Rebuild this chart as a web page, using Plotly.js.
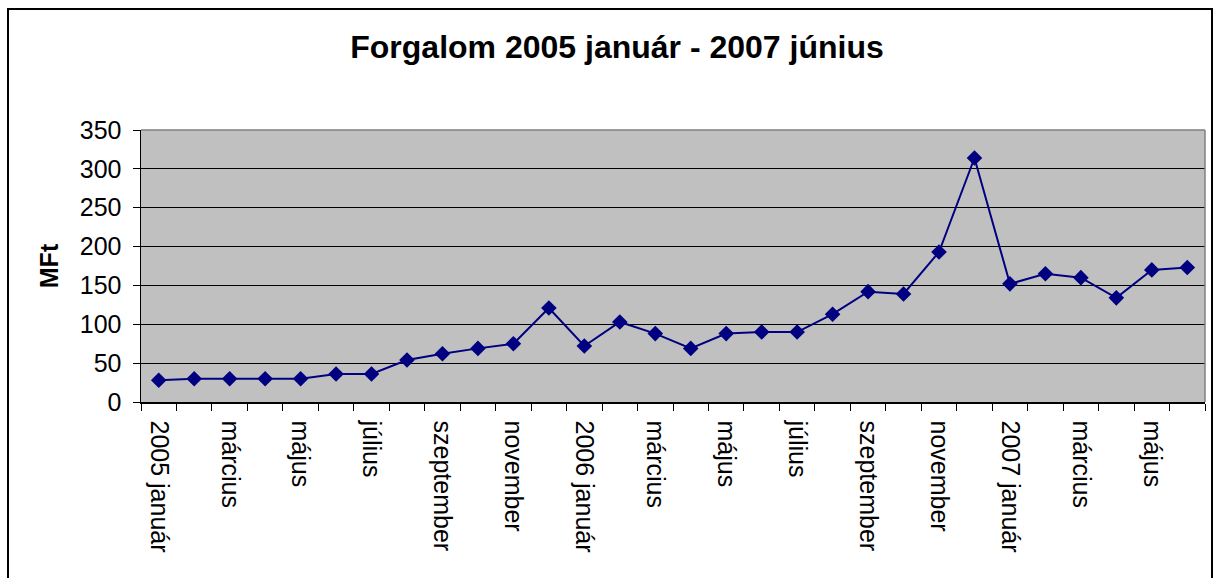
<!DOCTYPE html>
<html>
<head>
<meta charset="utf-8">
<script src="https://cdn.plot.ly/plotly-3.0.1.min.js"></script>
<style>
  html, body { margin: 0; padding: 0; background: #fff; }
  #chart { width: 1215px; height: 578px; }
</style>
</head>
<body>
<div id="chart"></div>
<script>
// Data
const months = [
  "2005 január", "február", "március", "április", "május", "június",
  "július", "augusztus", "szeptember", "október", "november", "december",
  "2006 január", "február", "március", "április", "május", "június",
  "július", "augusztus", "szeptember", "október", "november", "december",
  "2007 január", "február", "március", "április", "május", "június"
];
const forgalom = [
  28, 30, 30, 30, 30, 36, 36, 54, 62, 69, 75, 121,
  72, 103, 88, 69, 88, 90, 90, 113, 142, 139, 193, 314,
  152, 165, 160, 134, 170, 173
];
const yTicks = [0, 50, 100, 150, 200, 250, 300, 350];

const W = 1215, H = 578;
const margin = { l: 141, r: 10, t: 130, b: 176 };
const pw = W - margin.l - margin.r, ph = H - margin.t - margin.b;
const px = v => (v - margin.l) / pw;
const py = v => 1 - (v - margin.t) / ph;

const xIdx = months.map((_, i) => i);
const labelIdx = xIdx.filter(i => i % 2 === 0);
const labelText = labelIdx.map(i => months[i]);

const trace = {
  x: xIdx,
  y: forgalom,
  text: months,
  type: "scatter",
  mode: "lines+markers",
  line: { color: "#000080", width: 2 },
  marker: { symbol: "diamond", size: 12, color: "#000080" },
  hovertemplate: "%{text}: %{y}<extra></extra>"
};

const layout = {
  width: W, height: H,
  margin: margin,
  paper_bgcolor: "#ffffff",
  plot_bgcolor: "#C0C0C0",
  showlegend: false,
  font: { family: "Liberation Sans, Arial, sans-serif", color: "#000", size: 25 },
  title: {
    text: "Forgalom 2005 január - 2007 június",
    font: { family: "Liberation Sans, Arial, sans-serif", size: 32, color: "#000", weight: "bold" },
    x: 617 / W, xref: "container", xanchor: "center",
    y: 1 - 47 / H, yref: "container", yanchor: "middle"
  },
  xaxis: {
    range: [-0.5, months.length - 0.5],
    tickmode: "array",
    tickvals: labelIdx,
    ticktext: labelText,
    tickangle: 90,
    ticks: "",
    ticklabelstandoff: 12,
    showgrid: false,
    zeroline: false,
    showline: true,
    linecolor: "#000",
    linewidth: 1.5,
    tickfont: { size: 25, color: "#000" },
    minor: {
      tickmode: "linear",
      tick0: -0.5,
      dtick: 1,
      ticks: "outside",
      ticklen: 7,
      tickcolor: "#000",
      tickwidth: 1,
      showgrid: false
    },
    fixedrange: true
  },
  yaxis: {
    range: [0, 350],
    tickmode: "array",
    tickvals: yTicks,
    ticks: "outside",
    ticklen: 7,
    tickcolor: "#000",
    ticklabelstandoff: 6,
    showgrid: true,
    gridcolor: "#000",
    gridwidth: 1,
    zeroline: false,
    showline: true,
    linecolor: "#000",
    linewidth: 1.5,
    tickfont: { size: 25, color: "#000" },
    title: {
      text: "MFt",
      font: { size: 25, color: "#000", weight: "bold" },
      standoff: 14
    },
    fixedrange: true
  },
  shapes: [
    // grey plot-area border (top and right)
    { type: "line", xref: "paper", yref: "paper", x0: 0, x1: 1, y0: 1, y1: 1,
      line: { color: "#808080", width: 1.5 }, layer: "above" },
    { type: "line", xref: "paper", yref: "paper", x0: 1, x1: 1, y0: 0, y1: 1,
      line: { color: "#808080", width: 1.5 }, layer: "above" },
    // outer chart border
    { type: "rect", xref: "paper", yref: "paper",
      x0: px(8), x1: px(1212), y0: py(640), y1: py(9),
      line: { color: "#000", width: 2 }, fillcolor: "rgba(0,0,0,0)", layer: "below" }
  ]
};

Plotly.newPlot("chart", [trace], layout, { displayModeBar: false, staticPlot: true });
</script>
</body>
</html>
